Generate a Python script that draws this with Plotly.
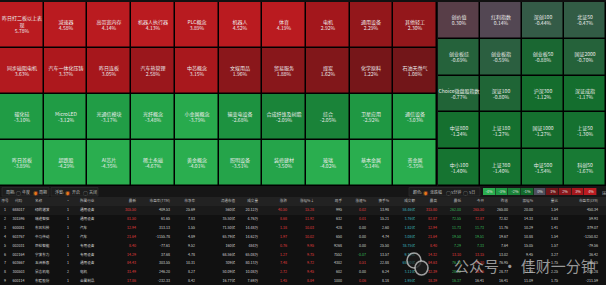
import plotly.graph_objects as go

W, H = 606, 285
FONT = "Noto Sans CJK SC, Noto Sans, sans-serif"

# ---------------- heat map: concepts / industries (left block, 4 rows x 10 cols)
left_names = [
    ["昨日打二板以上表现", "减速器", "高带宽内存", "机器人执行器", "PLC概念", "机器人", "体育", "电机", "通用设备", "其他轻工"],
    ["同步磁阻电机", "汽车一体化压铸", "昨日连板", "汽车热管理", "中芯概念", "文娱用品", "贸易服务", "煤炭", "化学原料", "石油天然气"],
    ["碳化硅", "MicroLED", "光通信模块", "光纤概念", "小金属概念", "输变电设备", "合成纤维及树脂", "综合", "卫星应用", "通信设备"],
    ["昨日首板", "超跌股", "AI芯片", "稀土永磁", "黄金概念", "照明设备", "装修建材", "玻璃", "基本金属", "贵金属"],
]
left_pcts = [
    [5.78, 4.58, 4.14, 4.13, 3.89, 4.52, 4.19, 2.92, 2.29, 2.30],
    [3.63, 3.37, 3.05, 2.58, 3.15, 1.96, 1.88, 1.62, 1.22, 1.08],
    [-3.10, -3.12, -3.17, -3.48, -3.79, -2.68, -2.09, -2.05, -2.92, -3.03],
    [-3.89, -4.29, -4.35, -4.67, -4.01, -3.51, -3.50, -4.02, -5.14, -5.35],
]

# ---------------- heat map: indices (right block, 5 rows x 4 cols)
index_names = [
    ["创价值", "红利指数", "深创100", "北证50"],
    ["创业板综", "创业板指", "创业板50", "国证2000"],
    ["Choice微盘股指数", "深证100", "沪深300", "深证成指"],
    ["中证800", "上证180", "国证1000", "上证50"],
    ["中小100", "上证380", "中证500", "科创50"],
]
index_pcts = [
    [0.30, 0.14, -0.44, -0.47],
    [-0.69, -0.59, -0.88, -0.70],
    [-0.77, -0.80, -1.12, -1.17],
    [-1.24, -1.27, -1.27, -1.30],
    [-1.40, -1.40, -1.54, -1.67],
]

# ---------------- colour legend
legend_levels = [-4, -3, -2, -1, 0, 1, 2, 3, 4]

# ---------------- stock table
headers = ["序号", "代码", "名称", "•", "所属行业", "最新", "市盈率(TTM)", "市净率", "流通市值", "成交量",
           "涨跌", "涨幅%↓", "现手", "涨速%", "换手%", "成交额", "最高", "最低", "今开", "昨收",
           "振幅%", "量比", "市盈率(LYR)"]
seq = [1, 2, 3, 4, 5, 6, 7, 8, 9]
codes = ["688017", "301596", "600081", "603767", "002031", "002164", "603667", "300503", "600114"]
names = ["绿的谐波", "瑞迪智驱", "东风科技", "中马传动", "巨轮智能", "宁波东力", "五洲新春", "昊志机电", "东睦股份"]
boards = [1, 1, 1, 1, 1, 1, 1, 2, 1]
industries = ["通用设备", "通用设备", "汽车", "汽车", "专用设备", "专用设备", "通用设备", "电机", "金属制品"]
last_price = [305.50, 81.50, 12.94, 21.64, 8.40, 14.29, 84.43, 31.49, 17.86]
pe_ttm = [409.53, 61.65, 313.13, -1155.78, -77.61, 37.68, 303.55, 246.20, -232.33]
pb = [25.69, 7.83, 1.55, 4.89, 9.52, 4.78, 10.31, 8.27, 8.42]
float_cap_yi = [560, 35.50, 71.50, 65.79, 160, 68.56, 309, 50.09, 16.77]
volume_wan = [20.12, 4.76, 14.48, 14.62, 484, 65.08, 80.13, 10.08, 7.69]
change = [40.50, 8.68, 1.18, 1.97, 0.76, 1.27, 7.48, 2.72, 1.45]
pct_chg = [15.28, 11.92, 10.03, 10.02, 9.95, 9.75, 9.72, 9.45, 8.84]
cur_vol = [995, 632, 428, 650, 9268, 7552, 4302, 602, 1000]
speed = [0.02, 0.01, 0.00, 0.00, 0.00, -0.07, 0.51, 0.00, 0.06]
turnover = [13.98, 15.21, 2.60, 4.74, 25.50, 13.57, 22.88, 6.24, 8.18]
amount_yi = [58.46, 3.76, 1.82, 3.08, 38.75, 9.10, 65.90, 3.11, 1.95]
high = [315.80, 82.87, 12.94, 21.64, 8.40, 14.32, 84.63, 32.39, 18.39]
low = [262.00, 72.55, 11.73, 19.50, 7.29, 13.10, 76.20, 28.72, 16.37]
open_ = [265.50, 72.87, 11.73, 19.51, 7.33, 13.15, 78.10, 28.95, 16.41]
prev_close = [265.00, 72.82, 11.76, 19.67, 7.64, 13.02, 76.95, 28.77, 16.41]
amplitude = [20.00, 14.33, 10.29, 10.88, 15.05, 9.45, 11.02, 12.18, 11.09]
vol_ratio = [1.54, 3.63, 1.41, 1.54, 1.57, 3.27, 1.75, 2.25, 1.75]
pe_lyr = [450.34, 59.93, 379.07, -1250.82, -79.56, 36.42, 290.15, 200.28, -211.59]

# ---------------- styling
RED, GREEN, WHITE, TEAL, GREY = "#e23c3f", "#36b55a", "#d2d2d2", "#3bb8bf", "#bdbdbd"
colorscale = [[0.0, "#2aae4f"], [0.125, "#1f9a44"], [0.25, "#1a8238"], [0.375, "#136a2c"],
              [0.5, "#4e4f5c"], [0.625, "#701619"], [0.75, "#8b171b"], [0.875, "#a5171c"],
              [1.0, "#ba1b20"]]


def px(x):
    return x / W


def py(y):
    return 1 - y / H


def wrap(name, n=8):
    width = sum(1.0 if ord(ch) > 127 else 0.55 for ch in name)
    return name if width <= 8.5 else name[:n] + "<br>" + name[n:]


def cell_text(nm, pc):
    return [[f"{wrap(a)}<br>{b:.2f}%" for a, b in zip(r1, r2)] for r1, r2 in zip(nm, pc)]


def sc(v, ref=0.0):
    return RED if v > ref else (GREEN if v < ref else WHITE)


def unit(v, u):
    return f"{v:.0f}{u}" if v >= 100 else f"{v:.2f}{u}"


f2 = lambda a: [f"{v:.2f}" for v in a]

fig = go.Figure()

fig.add_trace(go.Heatmap(
    z=left_pcts, text=cell_text(left_names, left_pcts), texttemplate="%{text}",
    textfont=dict(size=5, color="#ececec", family=FONT),
    colorscale=colorscale, zmin=-4, zmax=4, showscale=False, xgap=1.5, ygap=1.5,
    hoverinfo="skip", xaxis="x", yaxis="y"))

fig.add_trace(go.Heatmap(
    z=index_pcts, text=cell_text(index_names, index_pcts), texttemplate="%{text}",
    textfont=dict(size=5, color="#ececec", family=FONT),
    colorscale=colorscale, zmin=-4, zmax=4, showscale=False, xgap=1.5, ygap=1.5,
    hoverinfo="skip", xaxis="x2", yaxis="y2"))

fig.add_trace(go.Heatmap(
    z=[legend_levels], text=[[f"{v}%" for v in legend_levels]], texttemplate="%{text}",
    textfont=dict(size=3.8, color="#e0e0e0", family=FONT),
    colorscale=colorscale, zmin=-4, zmax=4, showscale=False, xgap=0.6,
    hoverinfo="skip", xaxis="x3", yaxis="y3"))

# ---------------- table
columns = [
    [str(s) for s in seq], codes, names, [str(b) for b in boards], industries,
    f2(last_price), f2(pe_ttm), f2(pb), [unit(v, "亿") for v in float_cap_yi],
    [unit(v, "万") for v in volume_wan], f2(change), f2(pct_chg), [str(v) for v in cur_vol],
    f2(speed), f2(turnover), [unit(v, "亿") for v in amount_yi], f2(high), f2(low), f2(open_),
    f2(prev_close), f2(amplitude), f2(vol_ratio), f2(pe_lyr)]
n = len(seq)
font_cols = [[WHITE] * n] * 5 + [
    [sc(c) for c in change], [WHITE] * n, [WHITE] * n, [WHITE] * n, [WHITE] * n,
    [sc(c) for c in change], [sc(c) for c in pct_chg], [WHITE] * n, [sc(s) for s in speed],
    [WHITE] * n, [TEAL] * n,
    [sc(h, p) for h, p in zip(high, prev_close)], [sc(l, p) for l, p in zip(low, prev_close)],
    [sc(o, p) for o, p in zip(open_, prev_close)], [WHITE] * n, [WHITE] * n, [WHITE] * n, [WHITE] * n]
col_edges = [0, 10, 27, 64, 72, 120, 144, 178, 203, 243, 266, 295, 322, 350, 374, 397, 423, 445,
             469, 492, 516, 541, 566, 606]
col_w = [b - a for a, b in zip(col_edges[:-1], col_edges[1:])]
aligns = ["center", "center", "left", "center", "left"] + ["right"] * 18

TABLE_TOP = 197 - 5.7
fig.add_trace(go.Table(
    domain=dict(x=[0, 1], y=[0, py(TABLE_TOP)]),
    columnwidth=col_w,
    header=dict(values=headers, height=9, align=aligns, fill_color="rgba(0,0,0,0)",
                line=dict(color="rgba(0,0,0,0)", width=0),
                font=dict(size=3.6, color=GREY, family=FONT)),
    cells=dict(values=columns, height=8.9, align=aligns, fill_color="rgba(0,0,0,0)",
               line=dict(color="rgba(0,0,0,0)", width=0),
               font=dict(size=3.6, color=font_cols, family=FONT))))

# ---------------- layout chrome
shapes = [
    dict(type="rect", xref="paper", yref="paper", x0=0, x1=1, y0=py(197), y1=py(186),
         fillcolor="#161616", line_width=0, layer="below"),
    dict(type="rect", xref="paper", yref="paper", x0=px(2), x1=px(49), y0=py(196), y1=py(187.5),
         fillcolor="#1d1d1d", line=dict(color="#333", width=0.6), layer="below"),
    dict(type="rect", xref="paper", yref="paper", x0=px(51), x1=px(98), y0=py(196), y1=py(187.5),
         fillcolor="#1d1d1d", line=dict(color="#333", width=0.6), layer="below"),
    dict(type="rect", xref="paper", yref="paper", x0=px(409), x1=px(480), y0=py(196), y1=py(187.5),
         fillcolor="#1d1d1d", line=dict(color="#333", width=0.6), layer="below"),
    dict(type="rect", xref="paper", yref="paper", x0=0, x1=1, y0=py(206), y1=py(197),
         fillcolor="#222222", line_width=0, layer="below"),
    dict(type="rect", xref="paper", yref="paper", x0=0, x1=1, y0=py(215), y1=py(206),
         fillcolor="#1a1a1a", line_width=0, layer="below"),
    # watermark logo
    dict(type="circle", xref="paper", yref="paper", x0=px(407), x1=px(421), y0=py(268), y1=py(253),
         fillcolor="rgba(30,30,30,0.6)", line=dict(color="rgba(205,205,205,0.75)", width=1.6)),
    dict(type="circle", xref="paper", yref="paper", x0=px(415), x1=px(428), y0=py(275), y1=py(261),
         fillcolor="rgba(30,30,30,0.8)", line=dict(color="rgba(205,205,205,0.75)", width=1.6)),
]

ann = []


def label(x, y, t, color="#bbbbbb", size=4, anchor="left"):
    ann.append(dict(x=px(x), y=py(y), xref="paper", yref="paper", text=t, showarrow=False,
                    xanchor=anchor, yanchor="middle", font=dict(size=size, color=color, family=FONT)))


ORANGE = "#e8761c"
label(4, 192, "周期:")
label(14, 192, "○", "#999", 5)
label(20, 192, "年度")
label(31, 192, "◉", ORANGE, 5)
label(37, 192, "周期")
label(53, 192, "浮窗:")
label(63, 192, "◉", ORANGE, 5)
label(70, 192, "开启")
label(81, 192, "○", "#999", 5)
label(87, 192, "关闭")
label(411, 192, "颜色:")
label(421, 192, "◉", ORANGE, 5)
label(428, 192, "涨跌幅")
label(444, 192, "○", "#999", 5)
label(449, 192, "5分钟")
label(461, 192, "○", "#999", 5)
label(467, 192, "5日")
label(600, 192, "⊞", "#999", 6)
label(452, 265, "公众号 · 佳财一分钟", "rgba(205,205,205,0.72)", 15)

hidden = dict(visible=False, showgrid=False, zeroline=False, fixedrange=True)
fig.update_layout(
    width=W, height=H, margin=dict(l=0, r=0, t=0, b=0),
    paper_bgcolor="#111111", plot_bgcolor="#000000",
    font=dict(family=FONT),
    xaxis=dict(domain=[0, px(437)], range=[-0.5, 9.5], **hidden),
    yaxis=dict(domain=[py(186), py(2)], range=[3.5, -0.5], **hidden),
    xaxis2=dict(domain=[px(438), 1], range=[-0.5, 3.5], anchor="y2", **hidden),
    yaxis2=dict(domain=[py(186), py(2)], range=[4.5, -0.5], anchor="x2", **hidden),
    xaxis3=dict(domain=[px(483), px(597)], range=[-0.5, 8.5], anchor="y3", **hidden),
    yaxis3=dict(domain=[py(195), py(188)], range=[-0.5, 0.5], anchor="x3", **hidden),
    shapes=shapes, annotations=ann, showlegend=False)

fig.write_html("out.html")
